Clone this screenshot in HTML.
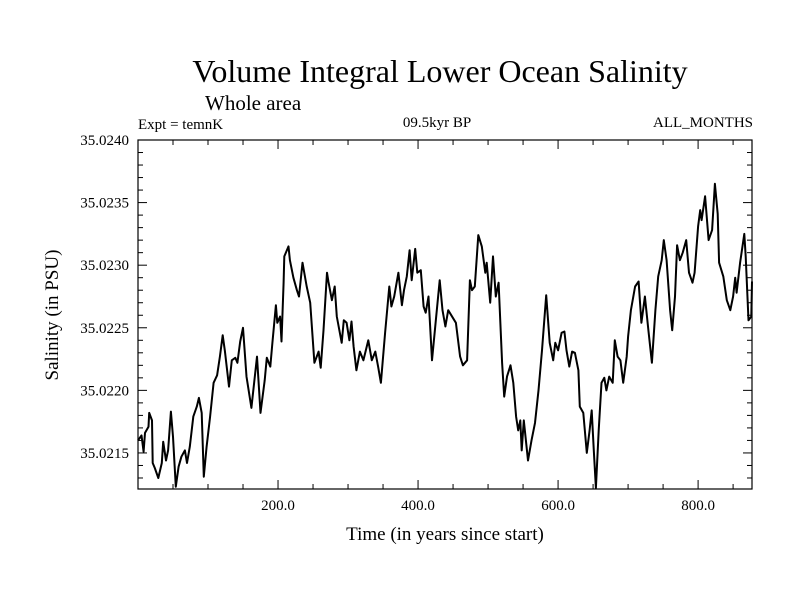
<!DOCTYPE html>
<html><head><meta charset="utf-8"><style>
body{margin:0;background:#fff}
svg{display:block;font-family:"Liberation Serif",serif}
</style></head><body>
<svg id="chart" width="800" height="600" viewBox="0 0 800 600">
<text x="440" y="82" font-size="32" text-anchor="middle">Volume Integral Lower Ocean Salinity</text>
<text x="205" y="110" font-size="21">Whole area</text>
<text x="138" y="129" font-size="15">Expt = temnK</text>
<text x="437" y="127" font-size="15" text-anchor="middle">09.5kyr BP</text>
<text x="753" y="127" font-size="15" text-anchor="end">ALL_MONTHS</text>
<text x="445" y="540" font-size="19" text-anchor="middle">Time (in years since start)</text>
<text transform="translate(58,315) rotate(-90)" font-size="19" text-anchor="middle">Salinity (in PSU)</text>
<g id="axes"></g>
<rect x="138" y="140" width="614" height="349" fill="none" stroke="#000" stroke-width="1.2"/>
</svg>
<script>
const years=[0,5,8,10,15,16,20,21,24,29,34,36,40,43,47,50,54,58,62,67,70,74,79,84,87,91,94,98,103,108,113,117,121,124,130,134,139,142,146,150,155,162,170,175,181,184,189,192,197,199,203,205,208,209,215,217,222,227,230,235,241,246,252,258,261,265,270,272,277,281,284,291,294,298,302,305,308,312,317,322,329,334,339,343,347,353,359,362,366,372,377,380,384,388,391,396,399,404,408,411,415,420,426,431,435,439,443,454,460,464,470,474,477,481,486,491,496,498,503,507,511,515,520,523,527,532,536,540,543,546,548,551,557,562,567,572,577,583,588,593,596,600,605,609,612,616,620,624,629,631,636,641,645,648,651,654,658,662,666,669,673,678,681,685,689,693,698,700,704,710,715,719,724,729,734,739,743,748,751,755,760,763,767,770,774,778,783,787,792,795,800,803,805,810,815,820,824,828,830,836,841,846,850,853,855,860,866,868,872,876,877];
const salinity=[35.02160,35.02164,35.02151,35.02166,35.02171,35.02182,35.02176,35.02142,35.02138,35.02130,35.02142,35.02159,35.02144,35.02152,35.02183,35.02163,35.02123,35.02139,35.02147,35.02152,35.02142,35.02155,35.02179,35.02187,35.02194,35.02182,35.02131,35.02155,35.02179,35.02206,35.02212,35.02227,35.02244,35.02232,35.02203,35.02224,35.02226,35.02222,35.02239,35.02250,35.02211,35.02186,35.02227,35.02182,35.02208,35.02226,35.02219,35.02238,35.02268,35.02254,35.02259,35.02239,35.02286,35.02307,35.02315,35.02304,35.02290,35.02280,35.02275,35.02302,35.02283,35.02270,35.02222,35.02231,35.02218,35.02248,35.02294,35.02287,35.02272,35.02283,35.02259,35.02238,35.02256,35.02254,35.02240,35.02255,35.02235,35.02216,35.02231,35.02224,35.02240,35.02224,35.02231,35.02219,35.02206,35.02246,35.02283,35.02267,35.02275,35.02294,35.02268,35.02280,35.02291,35.02312,35.02288,35.02313,35.02294,35.02296,35.02267,35.02262,35.02275,35.02224,35.02259,35.02288,35.02264,35.02251,35.02264,35.02254,35.02227,35.02220,35.02224,35.02288,35.02280,35.02283,35.02324,35.02315,35.02294,35.02302,35.02270,35.02307,35.02275,35.02286,35.02222,35.02195,35.02211,35.02220,35.02206,35.02179,35.02168,35.02176,35.02152,35.02176,35.02144,35.02160,35.02174,35.02200,35.02232,35.02276,35.02238,35.02224,35.02238,35.02232,35.02246,35.02247,35.02232,35.02219,35.02231,35.02230,35.02216,35.02187,35.02182,35.02150,35.02168,35.02184,35.02152,35.02122,35.02168,35.02206,35.02210,35.02200,35.02211,35.02206,35.02240,35.02227,35.02224,35.02206,35.02227,35.02243,35.02264,35.02283,35.02287,35.02254,35.02275,35.02248,35.02222,35.02264,35.02291,35.02304,35.02320,35.02304,35.02264,35.02248,35.02275,35.02316,35.02304,35.02310,35.02320,35.02294,35.02286,35.02294,35.02331,35.02344,35.02336,35.02355,35.02320,35.02328,35.02365,35.02341,35.02302,35.02291,35.02272,35.02264,35.02275,35.02290,35.02278,35.02302,35.02325,35.02307,35.02256,35.02259,35.02287];
const xTickLabels=["200.0","400.0","600.0","800.0"];
const yTickLabels=["35.0215","35.0220","35.0225","35.0230","35.0235","35.0240"];
const X0=138,X1=752,Y0=140,Y1=489,xMin=0,xMax=877,yMin=35.021212,yMax=35.0240;
const sx=v=>X0+(v-xMin)/(xMax-xMin)*(X1-X0);
const sy=v=>Y1-(v-yMin)/(yMax-yMin)*(Y1-Y0);
const NS="http://www.w3.org/2000/svg";
const g=document.getElementById('axes');
function mk(t,a){const e=document.createElementNS(NS,t);for(const k in a)e.setAttribute(k,a[k]);g.appendChild(e);return e;}
for(let v=50;v<xMax;v+=50){const x=sx(v),L=(v%200===0)?9:5;
const t1=mk('line',{x1:x,y1:Y1,x2:x,y2:Y1-L,stroke:'#000'});


const t2=mk('line',{x1:x,y1:Y0,x2:x,y2:Y0+L,stroke:'#000'});

}
xTickLabels.forEach(s=>{const t=mk('text',{x:sx(parseFloat(s)),y:510,'font-size':15,'text-anchor':'middle'});t.textContent=s;

});
for(let k=0;k<=30;k++){const v=35.0213+k*0.0001;if(v>yMax+1e-9)break;const y=sy(v),L=(k%5===2)?9:5;
const t1=mk('line',{x1:X0,y1:y,x2:X0+L,y2:y,stroke:'#000'});


const t2=mk('line',{x1:X1,y1:y,x2:X1-L,y2:y,stroke:'#000'});

}
yTickLabels.forEach(s=>{const t=mk('text',{x:129,y:sy(parseFloat(s))+5,'font-size':15,'text-anchor':'end'});t.textContent=s;

});
const d=years.map((yr,i)=>(i?'L':'M')+sx(yr).toFixed(1)+','+sy(salinity[i]).toFixed(1)).join('');
const p=mk('path',{d:d,fill:'none',stroke:'#000','stroke-width':2,'stroke-linejoin':'round'});


</script>
</body></html>
